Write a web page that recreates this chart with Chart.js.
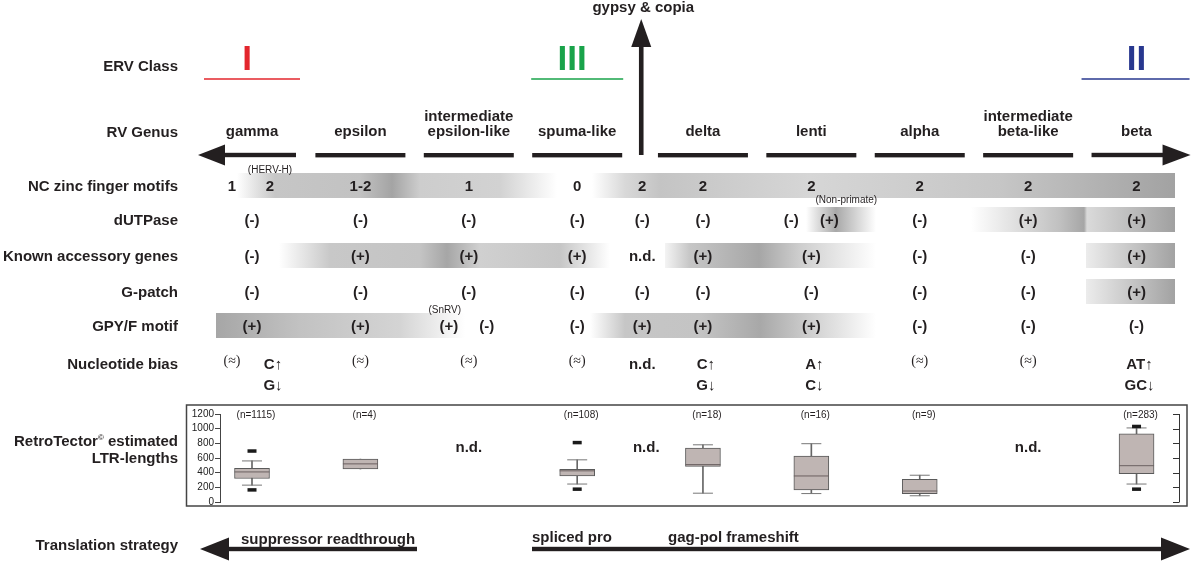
<!DOCTYPE html>
<html>
<head>
<meta charset="utf-8">
<script src="https://cdn.jsdelivr.net/npm/chart.js@4.4.0/dist/chart.umd.min.js"></script>
<style>html,body{margin:0;padding:0;background:#fff}canvas{display:block}</style>
</head>
<body>
<canvas id="c" width="1200" height="561"></canvas>
<script>
// columns of the diagram (gypsy & copia sits between spuma-like and delta)
const columns = ['gamma', 'epsilon', 'intermediate\nepsilon-like', 'spuma-like', 'gypsy & copia',
  'delta', 'lenti', 'alpha', 'intermediate\nbeta-like', 'beta'];
const rowLabels = ['NC zinc finger motifs', 'dUTPase', 'Known accessory genes', 'G-patch', 'GPY/F motif', 'Nucleotide bias'];

// table cells, one per column; "|" splits a cell in two
const ncZinc    = ['1|2', '1-2', '1', '0', '2', '2', '2', '2', '2', '2'];
const dutpase   = ['(-)', '(-)', '(-)', '(-)', '(-)', '(-)', '(-)|(+)', '(-)', '(+)', '(+)'];
const accessory = ['(-)', '(+)', '(+)', '(+)', 'n.d.', '(+)', '(+)', '(-)', '(-)', '(+)'];
const gpatch    = ['(-)', '(-)', '(-)', '(-)', '(-)', '(-)', '(-)', '(-)', '(-)', '(+)'];
const gpyf      = ['(+)', '(+)', '(+)|(-)', '(-)', '(+)', '(+)', '(+)', '(-)', '(-)', '(-)'];
const nucBias   = ['(≈)|C↑\nG↓', '(≈)', '(≈)', '(≈)', 'n.d.', 'C↑\nG↓', 'A↑\nC↓', '(≈)', '(≈)', 'AT↑\nGC↓'];
const tableRows = [ncZinc, dutpase, accessory, gpatch, gpyf, nucBias];

// LTR length box plots (RetroTector)
const boxGenera  = ['gamma', 'epsilon', 'spuma-like', 'delta', 'lenti', 'alpha', 'beta'];
const boxCount   = [1115, 4, 108, 18, 16, 9, 283];
const boxMin     = [230, 450, 245, 120, 115, 85, 245];
const boxQ1      = [320, 450, 355, 485, 165, 115, 385];
const boxMedian  = [410, 520, 425, 510, 355, 150, 495];
const boxQ3      = [460, 585, 445, 735, 625, 310, 930];
const boxMax     = [560, 585, 575, 780, 795, 365, 1010];
const outlierLow  = [165, null, 175, null, null, null, 175];
const outlierHigh = [695, null, 810, null, null, null, 1030];
const noData = ['intermediate\nepsilon-like', 'gypsy & copia', 'intermediate\nbeta-like'];

// layout: column position on the x axis
const colPos = [0, 1, 2, 3, 3.6, 4.16, 5.16, 6.16, 7.16, 8.16];
const rowY = [186, 220, 256, 292, 326, 364];
const INK = '#231f20';
const FAM = '"Liberation Sans", Arial, sans-serif';
const f = (size, bold) => (bold ? 'bold ' : '') + size + 'px ' + FAM;
const px = g => colPos[columns.indexOf(g)];

const bands = [
  { row: 0, stops: [[237,'#fff'],[275,'#c6c6c6'],[360,'#c2c2c2'],[392,'#a4a4a4'],[420,'#cdcdcd'],[500,'#d2d2d2'],[557,'#fff']] },
  { row: 0, stops: [[592,'#fff'],[625,'#d8d8d8'],[660,'#c4c4c4'],[810,'#d6d6d6'],[1000,'#c6c6c6'],[1175,'#a2a2a2']] },
  { row: 1, stops: [[806,'#fff'],[836,'#a8a8a8'],[876,'#fff']] },
  { row: 1, stops: [[971,'#fff'],[1060,'#c0c0c0'],[1084,'#a6a6a6'],[1087,'#dadada'],[1175,'#a0a0a0']] },
  { row: 2, stops: [[279,'#fff'],[330,'#c8c8c8'],[420,'#c4c4c4'],[447,'#a6a6a6'],[480,'#d0d0d0'],[560,'#c6c6c6'],[610,'#fff']] },
  { row: 2, stops: [[665,'#f4f4f4'],[690,'#c6c6c6'],[759,'#a6a6a6'],[800,'#cecece'],[876,'#fff']] },
  { row: 2, stops: [[1086,'#ececec'],[1175,'#a2a2a2']] },
  { row: 3, stops: [[1086,'#ececec'],[1175,'#a2a2a2']] },
  { row: 4, stops: [[216,'#a6a6a6'],[300,'#c2c2c2'],[400,'#d4d4d4'],[465,'#fff']] },
  { row: 4, stops: [[590,'#fff'],[625,'#c6c6c6'],[700,'#c4c4c4'],[760,'#a8a8a8'],[815,'#d2d2d2'],[876,'#fff']] }
];

function txt(ctx, s, x, y, font, align, color) {
  ctx.font = font; ctx.fillStyle = color || INK;
  ctx.textAlign = align || 'center'; ctx.textBaseline = 'alphabetic';
  ctx.fillText(s, x, y);
}
function hArrow(ctx, x0, x1, y, th, headLen, headH, dir) {
  // dir -1: head at x0, +1: head at x1
  ctx.fillStyle = INK;
  if (dir < 0) {
    ctx.fillRect(x0 + headLen - 1, y - th / 2, x1 - x0 - headLen + 1, th);
    ctx.beginPath(); ctx.moveTo(x0, y); ctx.lineTo(x0 + headLen, y - headH / 2); ctx.lineTo(x0 + headLen, y + headH / 2); ctx.fill();
  } else {
    ctx.fillRect(x0, y - th / 2, x1 - x0 - headLen + 1, th);
    ctx.beginPath(); ctx.moveTo(x1, y); ctx.lineTo(x1 - headLen, y - headH / 2); ctx.lineTo(x1 - headLen, y + headH / 2); ctx.fill();
  }
}

const diagram = {
  id: 'diagram',
  beforeDraw(chart) {
    const ctx = chart.ctx;
    ctx.save();
    ctx.fillStyle = '#fff'; ctx.fillRect(0, 0, chart.width, chart.height);
    bands.forEach(b => {
      const x0 = b.stops[0][0], x1 = b.stops[b.stops.length - 1][0];
      const g = ctx.createLinearGradient(x0, 0, x1, 0);
      b.stops.forEach(s => g.addColorStop((s[0] - x0) / (x1 - x0), s[1]));
      ctx.fillStyle = g;
      ctx.fillRect(x0, rowY[b.row] - 13, x1 - x0, 25);
    });
    ctx.restore();
  },
  afterDraw(chart) {
    const ctx = chart.ctx, xs = chart.scales.x, ys = chart.scales.y;
    const cx = i => xs.getPixelForValue(colPos[i]);
    ctx.save();

    // gypsy & copia arrow
    const gx = cx(4) - 1;
    txt(ctx, 'gypsy & copia', gx + 2, 12, f(15, true));
    ctx.fillStyle = INK;
    ctx.fillRect(gx - 2.3, 45, 4.6, 110);
    ctx.beginPath(); ctx.moveTo(gx, 19); ctx.lineTo(gx - 10, 47); ctx.lineTo(gx + 10, 47); ctx.fill();

    // ERV classes
    txt(ctx, 'ERV Class', 178, 71, f(15, true), 'right');
    [[0, 'I', '#e3262d', 48, 48, -5], [3, 'III', '#19a34a', 46, 46, -5], [9, 'II', '#28388f', 55, 53, 0]].forEach(c => {
      const x = cx(c[0]);
      txt(ctx, c[1], x + c[5], 70, f(35, true), 'center', c[2]);
      ctx.strokeStyle = c[2]; ctx.lineWidth = 1.6;
      ctx.beginPath(); ctx.moveTo(x - c[3], 79); ctx.lineTo(x + c[4], 79); ctx.stroke();
    });

    // RV genus labels + lines
    txt(ctx, 'RV Genus', 178, 137, f(15, true), 'right');
    columns.forEach((name, i) => {
      if (i === 4) return;
      const x = cx(i), parts = name.split('\n');
      parts.forEach((p, k) => txt(ctx, p, x, 136 - (parts.length - 1 - k) * 15, f(15, true)));
      if (i === 0) hArrow(ctx, x - 54, x + 44, 155, 4.4, 27, 21, -1);
      else if (i === 9) hArrow(ctx, x - 45, x + 54, 155, 4.4, 28, 21, 1);
      else { ctx.fillStyle = INK; ctx.fillRect(x - 45, 153, 90, 4.4); }
    });

    // table rows
    rowLabels.forEach((l, r) => txt(ctx, l, 178, rowY[r] + 5.3, f(15, true), 'right'));
    tableRows.forEach((row, r) => {
      row.forEach((cell, i) => {
        const parts = cell.split('|');
        parts.forEach((p, k) => {
          const dx = parts.length > 1 ? (k === 0 ? -20 : 18) : 0;
          const x = cx(i) + dx;
          if (p === '(≈)') { txt(ctx, p, x, rowY[r] + 1, '14px "Liberation Serif", "Times New Roman", serif'); return; }
          const lines = p.split('\n');
          lines.forEach((ln, k2) => txt(ctx, ln, x + (lines.length > 1 ? 3 : 0), rowY[r] + 5.3 + k2 * 21, f(15, true)));
        });
      });
    });
    // small notes
    txt(ctx, '(HERV-H)', cx(0) + 18, rowY[0] - 13, f(10, false));
    txt(ctx, '(Non-primate)', cx(6) + 35, rowY[1] - 17, f(10, false));
    txt(ctx, '(SnRV)', cx(2) - 24, rowY[4] - 13, f(10, false));

    // box plot frame + labels
    ctx.strokeStyle = '#444'; ctx.lineWidth = 1.5;
    ctx.strokeRect(186.5, 405, 1000.5, 101);
    ctx.font = f(15, true);
    const l1a = 'RetroTector', l1b = ' estimated';
    const wa = ctx.measureText(l1a).width, wb = ctx.measureText(l1b).width;
    ctx.font = f(8, true);
    const wc = ctx.measureText('©').width;
    const start = 178 - wa - wb - wc;
    txt(ctx, l1a, start, 446, f(15, true), 'left');
    txt(ctx, '©', start + wa, 440, f(8, true), 'left');
    txt(ctx, l1b, start + wa + wc, 446, f(15, true), 'left');
    txt(ctx, 'LTR-lengths', 178, 463, f(15, true), 'right');
    boxGenera.forEach((g, i) => txt(ctx, '(n=' + boxCount[i] + ')', xs.getPixelForValue(px(g)) + 4, 418, f(10, false)));
    noData.forEach(g => txt(ctx, 'n.d.', xs.getPixelForValue(px(g)) + (g === 'gypsy & copia' ? 4 : 0), 452, f(15, true)));

    // right axis, ticks pointing inward
    const ax = chart.chartArea.right;
    ctx.strokeStyle = '#333'; ctx.lineWidth = 1;
    ctx.beginPath(); ctx.moveTo(ax + 0.5, ys.getPixelForValue(0)); ctx.lineTo(ax + 0.5, ys.getPixelForValue(1200)); ctx.stroke();
    ys.ticks.forEach(t => {
      const y = Math.round(ys.getPixelForValue(t.value)) + 0.5;
      ctx.beginPath(); ctx.moveTo(ax - 6, y); ctx.lineTo(ax + 0.5, y); ctx.stroke();
    });

    // translation strategy
    txt(ctx, 'Translation strategy', 178, 550, f(15, true), 'right');
    hArrow(ctx, 200, 417, 549, 4.4, 29, 23, -1);
    hArrow(ctx, 532, 1190, 549, 4.4, 29, 23, 1);
    txt(ctx, 'suppressor readthrough', 241, 544, f(15, true), 'left');
    txt(ctx, 'spliced pro', 532, 542, f(15, true), 'left');
    txt(ctx, 'gag-pol frameshift', 668, 542, f(15, true), 'left');
    ctx.restore();
  }
};

const xOf = g => px(g);
const whiskers = boxGenera.map((g, i) => ({ x: xOf(g), y: [boxMin[i], boxMax[i]] }));
const boxes = boxGenera.map((g, i) => ({ x: xOf(g), y: [boxQ1[i], boxQ3[i]] }));
const medians = boxGenera.map((g, i) => ({ x: xOf(g), y: boxMedian[i] }));
const caps = [];
boxGenera.forEach((g, i) => {
  if (boxMin[i] < boxQ1[i]) caps.push({ x: xOf(g), y: boxMin[i] });
  if (boxMax[i] > boxQ3[i]) caps.push({ x: xOf(g), y: boxMax[i] });
});
const outliers = [];
boxGenera.forEach((g, i) => {
  if (outlierLow[i] != null) outliers.push({ x: xOf(g), y: outlierLow[i] });
  if (outlierHigh[i] != null) outliers.push({ x: xOf(g), y: outlierHigh[i] });
});

new Chart(document.getElementById('c'), {
  type: 'bar',
  data: {
    datasets: [
      { type: 'bar', data: whiskers, backgroundColor: '#666', barThickness: 1, grouped: false, order: 5 },
      { type: 'bar', data: boxes, backgroundColor: '#bfb5b3', borderColor: '#5a5a5a', borderWidth: 1,
        borderSkipped: false, barThickness: 35, grouped: false, order: 4 },
      { type: 'scatter', data: medians, pointStyle: 'line', pointRadius: 17.5, pointBorderWidth: 1,
        pointBorderColor: '#6b6060', order: 3 },
      { type: 'scatter', data: caps, pointStyle: 'line', pointRadius: 10, pointBorderWidth: 1,
        pointBorderColor: '#777', order: 2 },
      { type: 'scatter', data: outliers, pointStyle: 'line', pointRadius: 4.5, pointBorderWidth: 3.5,
        pointBorderColor: '#1a1a1a', order: 1 }
    ]
  },
  options: {
    responsive: false,
    animation: false,
    devicePixelRatio: 1,
    layout: { padding: { top: 414, bottom: 59, left: 186, right: 21 } },
    plugins: { legend: { display: false }, tooltip: { enabled: false } },
    scales: {
      x: { type: 'linear', min: -0.2952, max: 8.5517, offset: false, display: false },
      y: {
        min: 0, max: 1200,
        ticks: { stepSize: 200, autoSkip: false, font: { size: 10, family: FAM }, color: '#222', padding: 1,
          callback: v => String(v) },
        grid: { drawOnChartArea: false, tickLength: 5, color: '#444' },
        border: { color: '#444' },
        afterFit(s) { s.width = 34; }
      }
    }
  },
  plugins: [diagram]
});
</script>
</body>
</html>
